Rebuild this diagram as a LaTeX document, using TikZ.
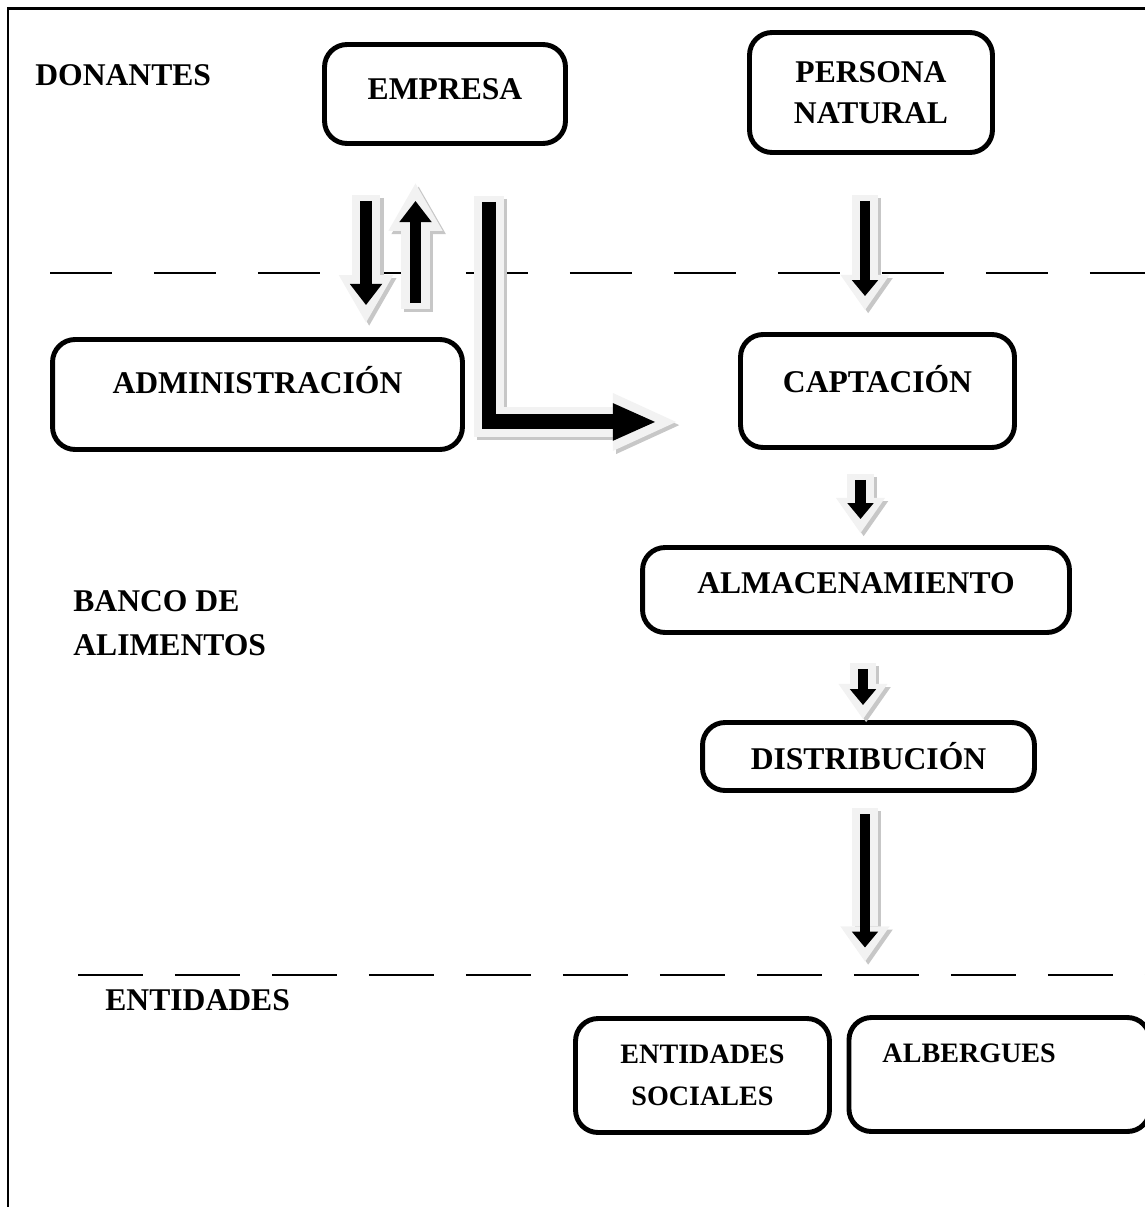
\documentclass[tikz,border=0pt]{standalone}
\usepackage{fontspec}
\setmainfont{Liberation Serif}
\usetikzlibrary{arrows.meta}

\tikzset{
  box/.style={draw, line width=2.8pt, rounded corners=0.45cm, align=center,
    font=\fontsize{18}{23}\selectfont\bfseries},
  smallbox/.style={box, font=\fontsize{16}{24}\selectfont\bfseries},
  lbl/.style={anchor=west, inner sep=0pt, align=left,
    font=\fontsize{18}{25}\selectfont\bfseries},
  cut/.style={line width=1.1pt},
  % core width, core tip, halo width, halo tip, halo overhang
  flow/.style n args={5}{draw=black, line width=#1, line join=miter,
    -{Triangle[#2,line width=0pt]},
    preaction={draw=black!22, line width=#3, shorten <=-3.5pt, shorten >=-#5,
      -{Triangle[#4,line width=0pt]},
      transform canvas={shift={(1.8pt,-1.8pt)}}},
    preaction={draw=black!5, line width=#3, shorten <=-3.5pt, shorten >=-#5,
      -{Triangle[#4,line width=0pt]}}},
  thinflow/.style={flow={6pt}{length=9pt,width=15pt}{15pt}{length=20pt,width=28pt}{8pt}},
  bigflow/.style={flow={6.8pt}{length=12pt,width=18.5pt}{16.5pt}{length=27pt,width=31pt}{10pt}},
  wideflow/.style={flow={8.5pt}{length=24pt,width=21.5pt}{17pt}{length=36pt,width=33pt}{12pt}}
}

\begin{document}
\begin{tikzpicture}[x=0.02cm,y=-0.02cm]
  \useasboundingbox (0,0) rectangle (1145,1207);
  % page frame
  \draw[line width=1.3pt] (8,1207) -- (8,8.5) -- (1145,8.5);

  % levels
  \node[lbl] (donantes) at (35,75) {DONANTES};
  \node[lbl] (banco) at (73,623) {BANCO DE\\ALIMENTOS};
  \node[lbl] (entidades) at (105,1000) {ENTIDADES};

  % donors
  \node[box, minimum width=4.82cm, minimum height=1.98cm, text depth=5.7pt] (empresa) at (445,94) {EMPRESA};
  \node[box, minimum width=4.86cm, minimum height=2.4cm] (persona) at (871,92.5) {PERSONA\\NATURAL};

  % food bank
  \node[box, minimum width=8.2cm, minimum height=2.2cm, text depth=17pt] (admin) at (257.5,394.5) {ADMINISTRACIÓN};
  \node[box, minimum width=5.48cm, minimum height=2.26cm, text depth=13.6pt] (captacion) at (877.5,391) {CAPTACIÓN};
  \node[box, minimum width=8.54cm, minimum height=1.7cm, text depth=8pt] (almacen) at (856,590) {ALMACENAMIENTO};
  \node[box, minimum width=6.64cm, minimum height=1.36cm] (distrib) at (868.5,756.5) {DISTRIBUCIÓN};

  % entities
  \node[smallbox, minimum width=5.08cm, minimum height=2.28cm] (entsoc) at (702.5,1075.5) {ENTIDADES\\SOCIALES};
  \node[smallbox, anchor=west, align=left, text width=4.68cm, inner xsep=0.67cm,
    minimum height=2.28cm] (albergues) at (846.5,1074.5) {ALBERGUES\\~};

  % separators
  \draw[cut, dash pattern=on 1.24cm off 0.84cm] (50,273) -- (1145,273);
  \draw[cut, dash pattern=on 1.3cm off 0.64cm] (78,975) -- (1145,975);

  % flows
  \draw[bigflow] (empresa.south) ++(-79,55) -- ++(0,104);
  \draw[bigflow] (admin.north) ++(158,-34) -- ++(0,-102);
  \draw[wideflow] (empresa.south) ++(44,56) -- ++(0,220) -- ++(166,0);
  \draw[thinflow] (persona.south) ++(-6,46) -- ++(0,95);
  \draw[thinflow] (captacion.south) ++(-17,30) -- ++(0,39);
  \draw[thinflow] (almacen.south) ++(7,34) -- ++(0,36);
  \draw[thinflow] (distrib.south) ++(-3.5,21.5) -- ++(0,133);
\end{tikzpicture}
\end{document}
